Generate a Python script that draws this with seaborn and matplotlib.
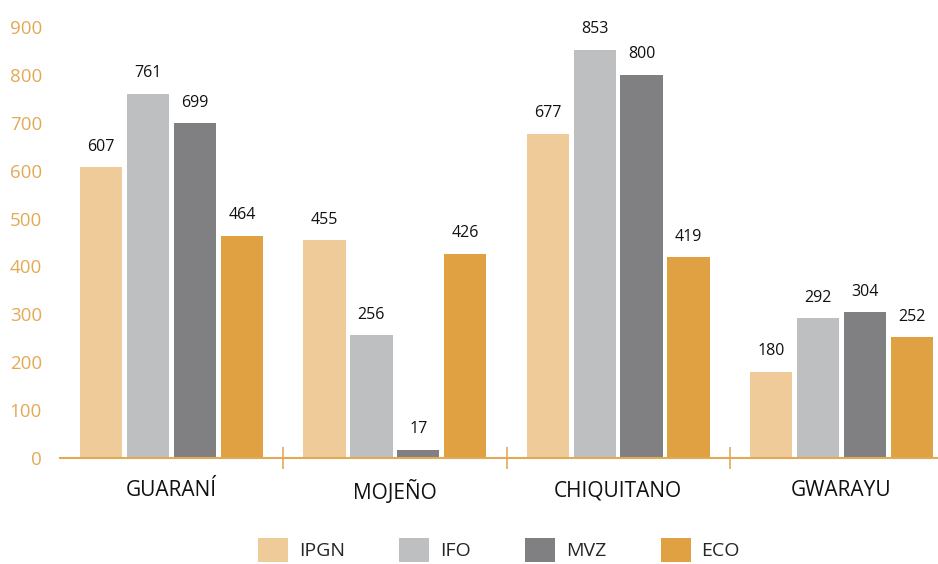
import matplotlib
matplotlib.use("Agg")
import matplotlib.pyplot as plt
import seaborn as sns
import pandas as pd

groups = ["GUARANÍ", "MOJEÑO", "CHIQUITANO", "GWARAYU"]
series = ["IPGN", "IFO", "MVZ", "ECO"]
ipgn = [607, 455, 677, 180]
ifo = [761, 256, 853, 292]
mvz = [699, 17, 800, 304]
eco = [464, 426, 419, 252]
yticks = [0, 100, 200, 300, 400, 500, 600, 700, 800, 900]

colors = ["#EECB98", "#BEBFC1", "#808083", "#E0A142"]
axis_color = "#E3AA55"

rows = []
for name, vals in zip(series, [ipgn, ifo, mvz, eco]):
    for g, v in zip(groups, vals):
        rows.append({"grupo": g, "serie": name, "valor": v})
df = pd.DataFrame(rows)

sns.set_theme(style="white")
plt.rcParams["font.family"] = ["Open Sans", "DejaVu Sans"]

fig = plt.figure(figsize=(9.38, 5.64), dpi=100)
W, H = 938, 564
px_per_unit = 431 / 900
ytop = 940
ax = fig.add_axes([60 / W, (H - 458) / H, (953 - 60) / W, ytop * px_per_unit / H])

sns.barplot(data=df, x="grupo", y="valor", hue="serie", order=groups,
            hue_order=series, palette=colors, width=0.84, gap=0.1,
            saturation=1, linewidth=0, edgecolor="none", ax=ax, legend=True)

for cont in ax.containers:
    ax.bar_label(cont, padding=9, fontsize=11.5, color="#111111")

ax.set_xlim(-0.5, 3.5)
ax.set_ylim(0, ytop)
ax.set_yticks(yticks)
ax.set_xlabel("")
ax.set_ylabel("")

for s in ["top", "right", "left"]:
    ax.spines[s].set_visible(False)
ax.spines["bottom"].set_color(axis_color)
ax.spines["bottom"].set_linewidth(1.5)

ax.tick_params(axis="y", left=False, length=0, pad=13, labelsize=13.5,
               labelcolor=axis_color)
ax.tick_params(axis="x", which="major", bottom=False, length=0, pad=16,
               labelsize=15, labelcolor="#111111")
ax.set_xticks([0.5, 1.5, 2.5], minor=True)
ax.tick_params(axis="x", which="minor", bottom=True, direction="inout",
               length=16, width=1.2, color=axis_color)

handles, labels = ax.get_legend_handles_labels()
ax.legend(handles, labels, loc="center", bbox_to_anchor=(499 / W, (H - 550) / H),
          bbox_transform=fig.transFigure, ncol=4, frameon=False, fontsize=14,
          handlelength=1.55, handleheight=1.45, handletextpad=0.55,
          columnspacing=2.8, borderaxespad=0)

fig.savefig("out.png", dpi=100)
